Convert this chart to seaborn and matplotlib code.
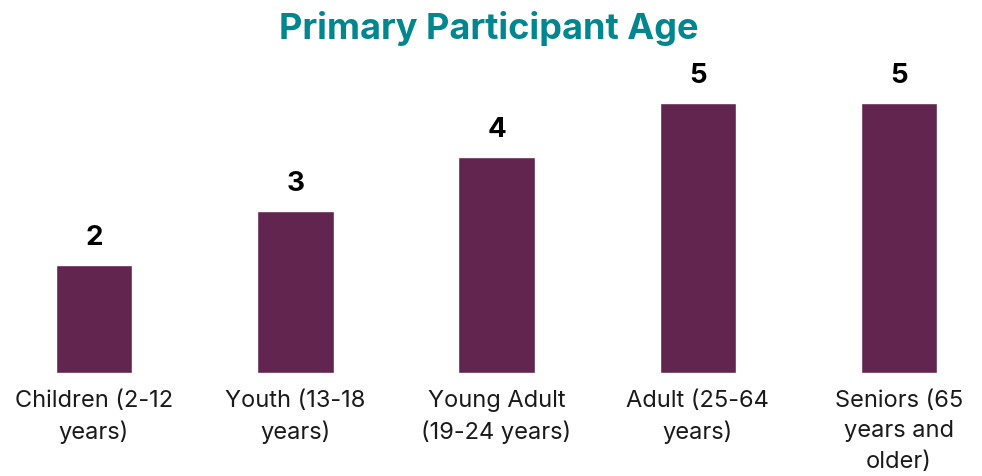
import matplotlib
matplotlib.use("Agg")
import matplotlib.pyplot as plt
import seaborn as sns
import pandas as pd

categories = [
    "Children (2-12\nyears)",
    "Youth (13-18\nyears)",
    "Young Adult\n(19-24 years)",
    "Adult (25-64\nyears)",
    "Seniors (65\nyears and\nolder)",
]
counts = [2, 3, 4, 5, 5]

bar_color = "#62254F"
title_color = "#00868F"

sns.set_theme(style="white")
plt.rcParams["font.family"] = ["Inter", "DejaVu Sans"]

df = pd.DataFrame({"group": categories, "count": counts})

fig = plt.figure(figsize=(9.82, 4.76), dpi=100)
ax = fig.add_axes([0, 103 / 476, 1, 313 / 476])

sns.barplot(data=df, x="group", y="count", color=bar_color, width=0.38,
            saturation=1, ax=ax)

ax.bar_label(ax.containers[0], fmt="%d", padding=10, fontsize=20,
             fontweight="bold", color="black")

ax.set_xlim(-0.467, 4.412)
ax.set_ylim(0, 5.8)
ax.set_xlabel("")
ax.set_ylabel("")
ax.set_yticks([])
ax.set_xticks(range(len(categories)), categories, linespacing=1.5,
              fontsize=17, color="#1a1a1a")
ax.tick_params(axis="x", length=0, pad=12)
sns.despine(ax=ax, left=True, bottom=True)

fig.text(0.498, 0.918, "Primary Participant Age", ha="center", va="baseline",
         fontsize=26, fontweight="bold", color=title_color)

fig.savefig("out.png", dpi=100)
